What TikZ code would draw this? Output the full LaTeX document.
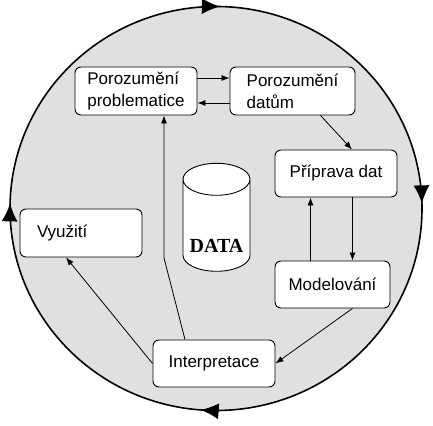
\documentclass[tikz,border=0pt]{standalone}
\usepackage{fontspec}
\setmainfont{Liberation Sans}
\newfontfamily\timesfont{Liberation Serif}
\usetikzlibrary{arrows.meta,shapes.geometric,decorations.markings}

\definecolor{disk}{RGB}{226,223,223}

\tikzset{
	box/.style={draw, rounded corners=6pt, fill=white, line width=0.9pt,
		align=left, font=\fontsize{17}{22}\selectfont,
		minimum width=122, minimum height=48},
	link/.style={->, line width=0.8pt},
	cyclearrow/.style={decoration={markings,
		mark=at position 0.262 with {\arrow{Latex[length=18pt,width=16pt]}},
		mark=at position 0.504 with {\arrow{Latex[length=18pt,width=16pt]}},
		mark=at position 0.753 with {\arrow{Latex[length=18pt,width=16pt]}},
		mark=at position 0.996 with {\arrow{Latex[length=18pt,width=16pt]}}},
		postaction={decorate}},
}

\begin{document}
\begin{tikzpicture}[x=1pt,y=1pt,>={Latex[length=8pt,width=6pt]}]
		
		\useasboundingbox (0,0) rectangle (433,425);
		
		% Cycle
		\fill[disk] (216,216.5) ellipse[x radius=206, y radius=202];
		\draw[line width=1.6pt, cyclearrow] (422,216.5)
		arc[start angle=360, end angle=0, x radius=206, y radius=202];
		
		% Phases
		\node[box] (prob) at (136,334) {Porozumění\\problematice};
		\node[box, minimum width=125] (datum) at (292.5,334) {Porozumění\\datům};
		\node[box, minimum height=47] (prep) at (336,251.5) {Příprava dat};
		\node[box, text width=88, inner xsep=17] (use) at (81,192) {Využití};
		\node[box, minimum width=115, minimum height=47] (model) at (332.5,140.5) {Modelování};
		\node[box, minimum height=47] (interp) at (214,61.5) {Interpretace};
		
		% Data store
		\node[cylinder, shape border rotate=90, aspect=4.8, draw, fill=white, line width=0.9pt,
		minimum width=67, minimum height=108] (data) at (216.5,196) {};
		\node[font=\timesfont\bfseries\fontsize{20}{24}\selectfont] (datatext)
		at ([yshift=-17]data.center) {DATA};
		
		% Links
		\draw[link] ([yshift=13]prob.east) -- ([yshift=13]prob.east -| datum.west);
		\draw[link] ([yshift=-12]datum.west) -- ([yshift=-12]datum.west -| prob.east);
		\draw[link] ([xshift=28]datum.south) -- ([xshift=16]prep.north);
		\draw[link] ([xshift=-22]model.north) -- ([xshift=-22]model.north |- prep.south);
		\draw[link] ([xshift=20]model.north |- prep.south) -- ([xshift=20]model.north);
		\draw[link] ([xshift=20]model.south) -- (interp.east);
		\draw[link] (interp.west) -- ([xshift=-15]use.south);
		\coordinate (bend) at (164,167);
		\draw[link] ([xshift=-29]interp.north) -- (bend) -- ([xshift=28]prob.south);
		
	\end{tikzpicture}
\end{document}
